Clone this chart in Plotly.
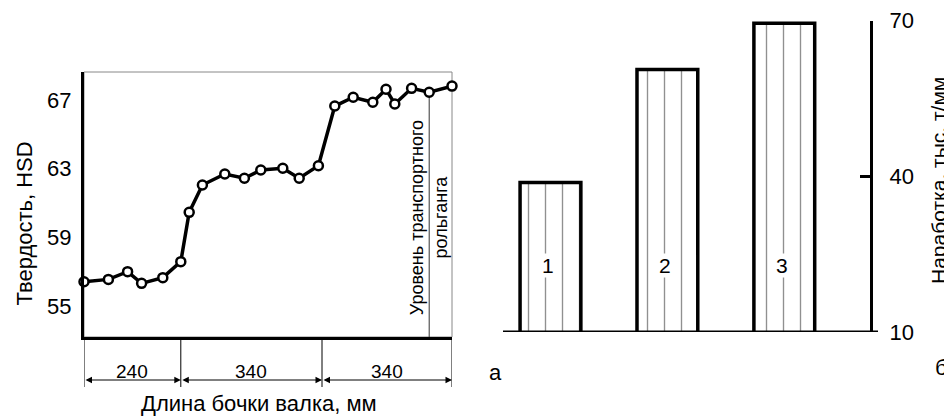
import plotly.graph_objects as go

W, H = 944, 408          # page body has an 8px margin in the 952x416 window
OFF = 8
FONT = "Liberation Sans, Arial, sans-serif"

# ---------------- data ----------------
# left chart: hardness along the roll barrel
pos_left = [0, 61, 109, 144, 197, 242, 263, 296, 352, 401, 442, 497, 538, 586,
            627, 673, 722, 755, 777, 819, 863, 920]
hardness = [56.42, 56.56, 57.01, 56.33, 56.66, 57.59, 60.46, 62.05, 62.69, 62.44,
            62.92, 63.02, 62.44, 63.17, 66.64, 67.15, 66.86, 67.62, 66.76, 67.67,
            67.44, 67.80]
hardness_ticks = [55, 59, 63, 67]
seg_bounds = [0, 242, 595, 920]          # dimension-line boundaries (axis units)
seg_labels = ["240", "340", "340"]
rollgang_pos = 863
rollgang_text = "Уровень транспортного<br>рольганга"

# right chart: service life
bar_cats = ["1", "2", "3"]
bar_x = [1, 2, 3]
work = [38.8, 60.6, 69.5]
work_ticks = [10, 40, 70]


def px(x):
    return (x - OFF) / W


def py(y):
    return 1 - (y - OFF) / H


fig = go.Figure()

fig.add_trace(go.Scatter(
    x=pos_left, y=hardness, mode="lines+markers",
    line=dict(color="black", width=3.5),
    marker=dict(symbol="circle", size=9, color="white",
                line=dict(color="black", width=2.5)),
    cliponaxis=False, xaxis="x", yaxis="y", showlegend=False,
))

fig.add_trace(go.Bar(
    x=bar_x, y=work, width=0.52,
    marker=dict(color="white", line=dict(color="black", width=3.5),
                pattern=dict(shape="|", size=17, solidity=0.08,
                             fgcolor="#222", bgcolor="white")),
    xaxis="x2", yaxis="y2", showlegend=False,
))

fig.update_layout(
    width=W, height=H,
    margin=dict(l=0, r=0, t=0, b=0, pad=0, autoexpand=False),
    paper_bgcolor="white", plot_bgcolor="white",
    font=dict(family=FONT, color="black", size=20),
    xaxis=dict(domain=[px(84), px(452)], range=[0, 920],
               showline=True, linecolor="black", linewidth=3,
               showticklabels=False, ticks="", showgrid=False, zeroline=False),
    yaxis=dict(domain=[py(337), py(72)], range=[53.21, 68.62],
               showline=True, linecolor="black", linewidth=3,
               tickvals=hardness_ticks, ticks="", ticklabelstandoff=5,
               tickfont=dict(size=22), showgrid=False, zeroline=False),
    xaxis2=dict(domain=[px(503), px(870)], range=[0.594, 3.733], anchor="y2",
                showline=False, showticklabels=False, ticks="",
                showgrid=False, zeroline=False),
    yaxis2=dict(domain=[py(332), py(20.7)], range=[10, 70], anchor="x2",
                side="right", showline=True, linecolor="black", linewidth=3,
                tickvals=work_ticks, ticks="inside", ticklen=10, tickwidth=2.5,
                tickcolor="black", ticklabelstandoff=12,
                tickfont=dict(size=22), showgrid=False, zeroline=False),
)

shapes = []
# thin grey top/right frame of the left plot
shapes.append(dict(type="rect", xref="x domain", yref="y domain",
                   x0=0, x1=1, y0=0, y1=1,
                   line=dict(color="#888", width=1), layer="below"))
# rollgang level line
shapes.append(dict(type="line", xref="x", yref="y",
                   x0=rollgang_pos, x1=rollgang_pos, y0=53.21, y1=hardness[20],
                   line=dict(color="#333", width=1), layer="below"))
# dimension extension lines
for b in seg_bounds:
    shapes.append(dict(type="line", xref="x", yref="paper",
                       x0=b, x1=b, y0=py(337), y1=py(387),
                       line=dict(color="black", width=1)))
# baseline of the bar chart
shapes.append(dict(type="line", xref="paper", yref="y2",
                   x0=px(503), x1=px(878), y0=10, y1=10,
                   line=dict(color="black", width=3)))
fig.update_layout(shapes=shapes)


def text_ann(x, y, text, size, angle=0, xref="paper", yref="paper", **kw):
    d = dict(x=x, y=y, xref=xref, yref=yref, text=text, showarrow=False,
             textangle=angle, xanchor="center", yanchor="middle",
             font=dict(size=size))
    d.update(kw)
    return d


ann = []
# dimension arrows and labels
for i in range(3):
    ann.append(dict(x=seg_bounds[i + 1], ax=seg_bounds[i], xref="x", axref="x",
                    y=py(380), yref="paper", ay=0, ayref="pixel",
                    text="", showarrow=True, arrowhead=2, arrowside="end+start",
                    arrowsize=1.3, arrowwidth=1, arrowcolor="black",
                    standoff=0, startstandoff=0))
    ann.append(text_ann((seg_bounds[i] + seg_bounds[i + 1]) / 2, py(371.7),
                        seg_labels[i], 19, xref="x"))
# titles
ann.append(text_ann(px(258.5), py(403), "Длина бочки валка, мм", 22))
ann.append(text_ann(px(24), py(223.5), "Твердость, HSD", 22, angle=-90))
ann.append(text_ann(px(938), py(181), "Наработка, тыс. т/мм", 21, angle=-90))
ann.append(text_ann(rollgang_pos, py(218), rollgang_text, 18, angle=-90, xref="x"))
# panel letters
ann.append(text_ann(px(495), py(372), "а", 22))
ann.append(text_ann(px(941), py(367), "б", 22))
# bar labels
for xv, lab in zip(bar_x, bar_cats):
    ann.append(text_ann(xv - 0.02, 22.8, lab, 21, xref="x2", yref="y2",
                        bgcolor="white", borderpad=0))
fig.update_layout(annotations=ann)

fig.write_html("out.html")
